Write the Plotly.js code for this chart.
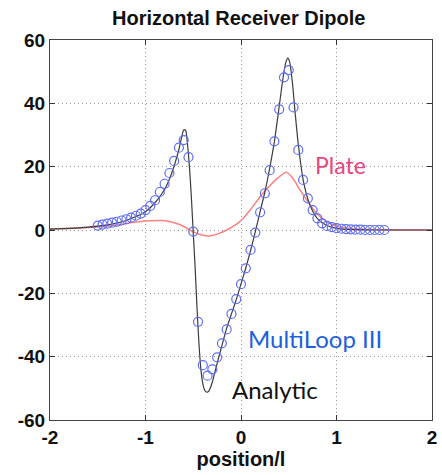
<!DOCTYPE html>
<html>
<head>
<meta charset="utf-8">
<script src="https://cdn.plot.ly/plotly-3.0.1.min.js"></script>
<style>html,body{margin:0;padding:0;background:#fff;}#chart{width:442px;height:475px;}</style>
</head>
<body>
<div id="chart"></div>
<script>
// Analytic curve
const analyticX = [-2, -1.8, -1.6, -1.4, -1.2, -1.0, -0.9, -0.8, -0.75, -0.7, -0.65, -0.62, -0.6, -0.58, -0.56, -0.54, -0.52, -0.5, -0.48, -0.46, -0.44, -0.42, -0.4, -0.38, -0.36, -0.34, -0.32, -0.3, -0.27, -0.24, -0.2, -0.15, -0.1, -0.05, 0, 0.05, 0.1, 0.15, 0.2, 0.25, 0.3, 0.35, 0.4, 0.44, 0.47, 0.49, 0.51, 0.54, 0.57, 0.6, 0.65, 0.7, 0.75, 0.8, 0.9, 1.0, 1.1, 1.2, 1.4, 1.6, 1.8, 2];
const analyticY = [0.3, 0.5, 0.9, 1.6, 3.0, 5.8, 8.6, 12.8, 16, 20.2, 25.5, 29.5, 31.6, 31.5, 27, 20, 10.5, -1, -12, -25, -36, -44, -48.5, -50.6, -51.2, -51, -49.8, -48, -44.5, -41, -36.5, -31, -26.5, -22, -17, -12, -6.5, -0.5, 5.8, 12, 19.5, 28, 39, 48, 53, 54.3, 53, 46, 36, 27, 16, 9.8, 6, 3.6, 1.4, 0.5, 0.2, 0.1, 0, 0, 0, 0];

// Plate curve
const plateX = [-2, -1.6, -1.3, -1.1, -0.95, -0.85, -0.75, -0.65, -0.58, -0.5, -0.42, -0.33, -0.25, -0.15, -0.05, 0, 0.1, 0.2, 0.3, 0.4, 0.48, 0.55, 0.62, 0.7, 0.8, 0.9, 1.0, 1.1, 1.3, 1.5, 2];
const plateY = [0.3, 0.8, 1.6, 2.5, 2.9, 3.0, 2.7, 1.8, 0.8, -0.6, -1.5, -1.9, -1.3, 0, 1.8, 3.0, 6.5, 10.5, 14, 16.8, 18.2, 16, 12.5, 9, 5, 2.6, 1.2, 0.6, 0.2, 0.1, 0];

// MultiLoop III markers
const multiX = [-1.5, -1.45, -1.4, -1.35, -1.3, -1.25, -1.2, -1.15, -1.1, -1.05, -1.0, -0.95, -0.9, -0.85, -0.8, -0.75, -0.7, -0.65, -0.6, -0.55, -0.5, -0.45, -0.4, -0.35, -0.3, -0.25, -0.2, -0.15, -0.1, -0.05, 0, 0.05, 0.1, 0.15, 0.2, 0.25, 0.3, 0.35, 0.4, 0.45, 0.5, 0.55, 0.6, 0.65, 0.7, 0.75, 0.8, 0.85, 0.9, 0.95, 1.0, 1.05, 1.1, 1.15, 1.2, 1.25, 1.3, 1.35, 1.4, 1.45, 1.5];
const multiY = [1.4, 1.7, 2.0, 2.3, 2.6, 3.0, 3.4, 3.9, 4.5, 5.2, 6.3, 7.6, 9.4, 12, 14.6, 18, 21.8, 26, 28.4, 23, -0.5, -29, -42.7, -46, -44, -40.2, -35.8, -31.4, -26.5, -21.8, -17.1, -12.1, -6.3, -0.8, 5.6, 11.6, 18.9, 28, 38.1, 48.2, 50.5, 38.7, 25.3, 15.8, 10, 6.3, 3.7, 2.1, 1.3, 0.9, 0.6, 0.4, 0.3, 0.2, 0.1, 0.1, 0, 0, 0, 0, 0];

const xTicks = [-2, -1, 0, 1, 2];
const yTicks = [-60, -40, -20, 0, 20, 40, 60];

const traces = [
  {x: plateX, y: plateY, type: 'scatter', mode: 'lines', line: {color: 'rgb(250,130,130)', width: 1.5, shape: 'spline', smoothing: 0.8}, hoverinfo: 'skip'},
  {x: analyticX, y: analyticY, type: 'scatter', mode: 'lines', line: {color: 'rgb(60,60,60)', width: 1.2, shape: 'spline', smoothing: 0.6}, hoverinfo: 'skip'},
  {x: multiX, y: multiY, type: 'scatter', mode: 'markers', marker: {symbol: 'circle-open', size: 9, color: 'rgb(95,110,245)', line: {width: 1.2, color: 'rgb(95,110,245)'}}, hoverinfo: 'skip'}
];

const tickFont = {family: 'Liberation Sans, Arial, sans-serif', size: 19, color: '#111', weight: 'bold'};
const labFont = 'Lato, Open Sans, sans-serif';

const layout = {
  width: 442, height: 475,
  margin: {l: 50, r: 10, t: 40, b: 55},
  paper_bgcolor: '#fff', plot_bgcolor: '#fff',
  showlegend: false,
  title: {text: 'Horizontal Receiver Dipole', font: {family: 'Liberation Sans, Arial, sans-serif', size: 20, color: '#111', weight: 'bold'}, x: 0.54, xanchor: 'center', y: 0.962, yanchor: 'middle'},
  xaxis: {
    range: [-2, 2], tickvals: xTicks, ticktext: xTicks.map(String),
    ticks: 'inside', ticklen: 5, tickcolor: '#333', showline: true, linecolor: '#444', linewidth: 1, mirror: 'ticks',
    showgrid: true, gridcolor: '#999', griddash: '1px,3px', gridwidth: 1, zeroline: false,
    tickfont: tickFont,
    title: {text: 'position/l', font: {family: 'Liberation Sans, Arial, sans-serif', size: 20, color: '#111', weight: 'bold'}, standoff: 3}
  },
  yaxis: {
    range: [-60, 60], tickvals: yTicks, ticktext: yTicks.map(String),
    ticks: 'inside', ticklen: 5, tickcolor: '#333', showline: true, linecolor: '#444', linewidth: 1, mirror: 'ticks',
    showgrid: true, gridcolor: '#999', griddash: '1px,3px', gridwidth: 1, zeroline: false,
    tickfont: tickFont
  },
  annotations: [
    {x: 1.047, y: 20.5, xref: 'x', yref: 'y', text: 'Plate', showarrow: false, font: {family: labFont, size: 23, color: 'rgb(232,70,125)'}},
    {x: 0.775, y: -34.4, xref: 'x', yref: 'y', text: 'MultiLoop III', showarrow: false, font: {family: labFont, size: 24, color: 'rgb(30,95,220)'}},
    {x: 0.356, y: -50.5, xref: 'x', yref: 'y', text: 'Analytic', showarrow: false, font: {family: labFont, size: 24, color: '#111'}}
  ]
};

Plotly.newPlot('chart', traces, layout, {staticPlot: true, displayModeBar: false});
</script>
</body>
</html>
